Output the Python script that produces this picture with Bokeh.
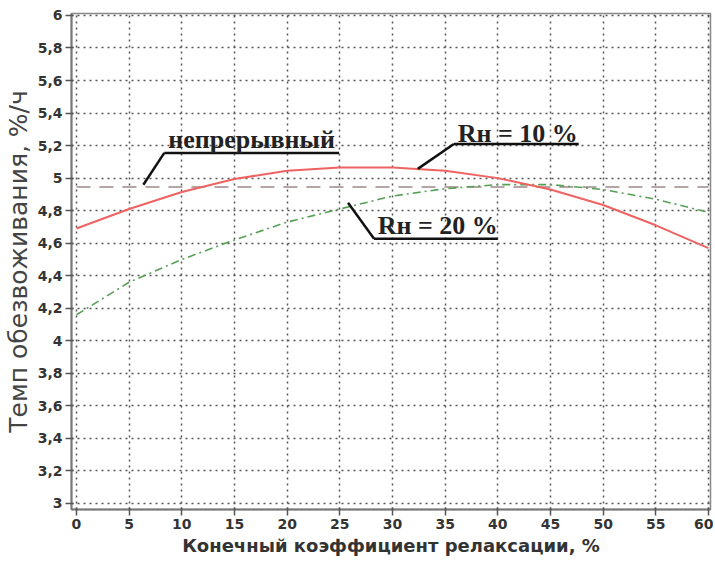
from bokeh.plotting import figure
from bokeh.models import Range1d, FixedTicker, Label
from bokeh.embed import file_html
from bokeh.resources import INLINE

# Data
x_vals = [0, 5, 10, 15, 20, 25, 30, 35, 40, 45, 50, 55, 60]
rn10 = [4.69, 4.81, 4.915, 4.995, 5.045, 5.066, 5.066, 5.045, 5.0, 4.93, 4.835, 4.71, 4.57]
rn20 = [4.16, 4.36, 4.50, 4.62, 4.73, 4.81, 4.89, 4.935, 4.96, 4.96, 4.93, 4.87, 4.79]
continuous_level = 4.945
x_ticks = [0, 5, 10, 15, 20, 25, 30, 35, 40, 45, 50, 55, 60]
y_ticks = [3.0, 3.2, 3.4, 3.6, 3.8, 4.0, 4.2, 4.4, 4.6, 4.8, 5.0, 5.2, 5.4, 5.6, 5.8, 6.0]
y_tick_labels = ["3", "3,2", "3,4", "3,6", "3,8", "4", "4,2", "4,4", "4,6", "4,8",
                 "5", "5,2", "5,4", "5,6", "5,8", "6"]
lbl_cont = "непрерывный"
lbl_10 = "Rн = 10 %"
lbl_20 = "Rн = 20 %"

p = figure(width=713, height=558, output_backend="svg", toolbar_location=None,
           x_range=Range1d(-0.47, 60.19), y_range=Range1d(2.963, 6.012),
           min_border_left=70, min_border_right=3, min_border_top=13, min_border_bottom=47)
p.outline_line_color = "#888888"
p.outline_line_width = 1.5

for ax in (p.xaxis[0], p.yaxis[0]):
    ax.axis_line_color = "#777777"
    ax.axis_line_width = 2
    ax.major_tick_line_color = "#555555"
    ax.major_tick_line_width = 1.5
    ax.major_tick_out = 6
    ax.major_tick_in = 2
    ax.minor_tick_line_color = None
    ax.major_label_text_font = "DejaVu Sans"
    ax.major_label_text_font_style = "bold"
    ax.major_label_text_font_size = "14px"
    ax.major_label_text_color = "#333333"
    ax.axis_label_text_font = "DejaVu Sans"
    ax.axis_label_text_color = "#333333"
    ax.major_label_standoff = 3

p.xaxis[0].ticker = FixedTicker(ticks=x_ticks)
p.yaxis[0].ticker = FixedTicker(ticks=y_ticks)
p.yaxis[0].major_label_overrides = {t: s for t, s in zip(y_ticks, y_tick_labels)}
p.xaxis[0].axis_label = "Конечный коэффициент релаксации, %"
p.yaxis[0].axis_label = "Темп обезвоживания, %/ч"
p.xaxis[0].axis_label_text_font_style = "bold"
p.xaxis[0].axis_label_text_font_size = "18px"
p.yaxis[0].axis_label_text_font_style = "normal"
p.yaxis[0].axis_label_text_font_size = "25px"
p.yaxis[0].axis_label_text_color = "#444444"
p.xaxis[0].axis_label_standoff = 3
p.yaxis[0].axis_label_standoff = 2

for g in (p.xgrid[0], p.ygrid[0]):
    g.grid_line_color = "#555555"
    g.grid_line_dash = "2 4"
    g.grid_line_width = 1.5

# Lines
p.line([x_ticks[0], x_ticks[-1]], [continuous_level, continuous_level],
       line_color="#b5a5a5", line_width=2, line_dash="14 9")
p.line(x_vals, rn20, line_color="#55a055", line_width=1.6, line_dash="8 4 2 4")
p.line(x_vals, rn10, line_color="#f06262", line_width=2)

# Annotations
serif = "Liberation Serif"
ann = [
    (lbl_cont, 8.72, 5.235, 8.34, 24.93, 5.155, 6.35, 4.959),
    (lbl_10, 36.2, 5.277, 35.83, 47.68, 5.21, 32.4, 5.057),
    (lbl_20, 28.6, 4.708, 28.25, 40.0, 4.628, 25.78, 4.849),
]
for txt, tx, ty, ux0, ux1, uy, lx, ly in ann:
    p.add_layout(Label(x=tx, y=ty, text=txt, text_font=serif, text_font_style="bold",
                       text_font_size="26px", text_color="#222222",
                       text_baseline="alphabetic", text_align="left"))
    p.segment(x0=[ux0, ux0], y0=[uy, uy], x1=[ux1, lx], y1=[uy, ly],
              line_color="#111111", line_width=2.5)

open("out.html", "w").write(file_html(p, INLINE))
